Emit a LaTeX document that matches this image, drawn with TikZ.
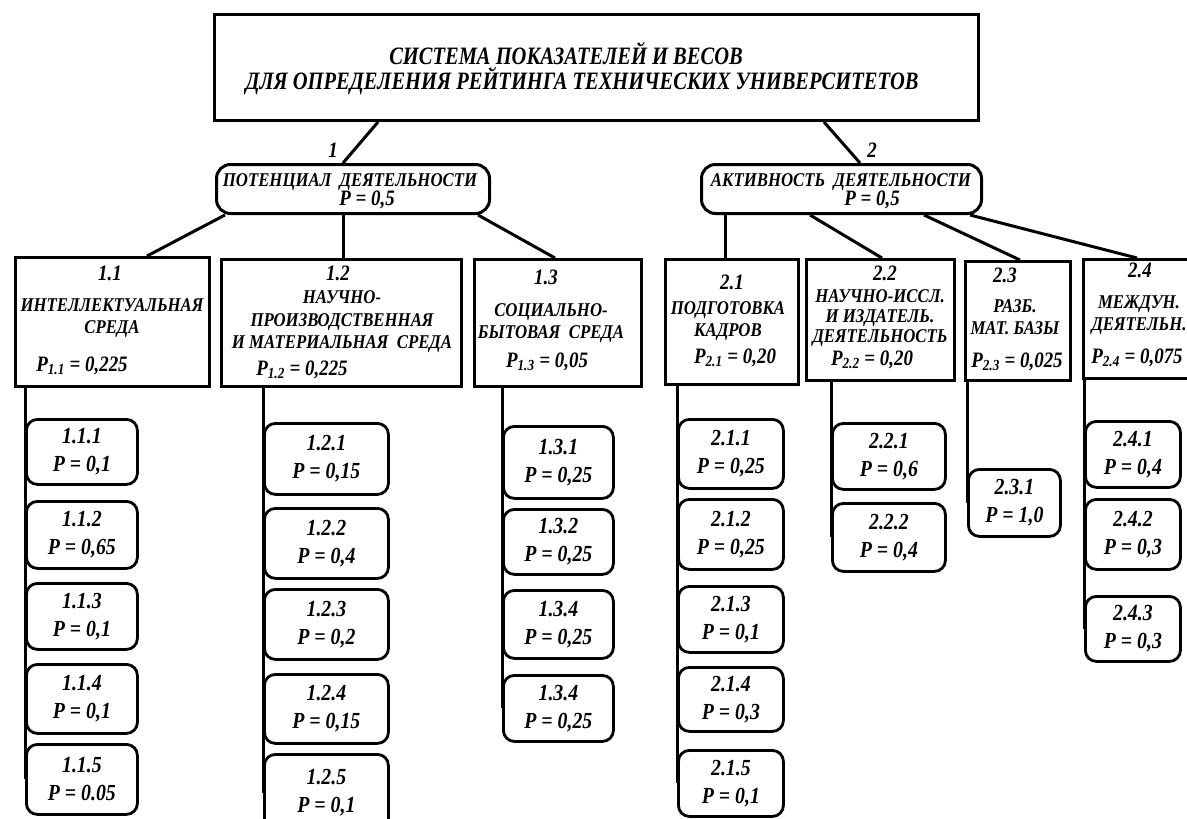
\documentclass[tikz,border=0pt]{standalone}
\usepackage{fontspec}
\setmainfont{Liberation Serif}[FakeStretch=0.86]
\newfontfamily\ttlfont{Liberation Serif}[FakeStretch=0.82]

\tikzset{
  every node/.style={inner sep=0pt},
  box/.style={draw, line width=3pt, anchor=north west},
  oval/.style={box, rounded corners=14pt},
  leaf/.style={draw, line width=2.8pt, rounded corners=11pt, anchor=north west, align=center,
    font=\fontsize{23}{28}\selectfont\bfseries\itshape},
  link/.style={line width=3pt},
  ttl/.style={font=\ttlfont\fontsize{25}{25}\selectfont\bfseries\itshape},
  num/.style={font=\fontsize{22}{22}\selectfont\bfseries\itshape},
  nm/.style={align=center, font=\fontsize{19.5}{22.5}\selectfont\bfseries\itshape},
  pv/.style={font=\fontsize{22}{22}\selectfont\bfseries\itshape},
}

\begin{document}
\begin{tikzpicture}[x=1pt,y=-1pt]
  \useasboundingbox (0,0) rectangle (1187,819);
  \clip (0,0) rectangle (1187,819);

  % Заголовок
  \node[box, minimum width=764, minimum height=106] (title) at (213,13) {};
  \node[ttl] (ttl1) at (566,54) {СИСТЕМА ПОКАЗАТЕЛЕЙ И ВЕСОВ};
  \node[ttl] (ttl2) at (582,81) {ДЛЯ ОПРЕДЕЛЕНИЯ РЕЙТИНГА ТЕХНИЧЕСКИХ УНИВЕРСИТЕТОВ};

  % Потенциал и активность
  \node[oval, minimum width=273, minimum height=49] (pot) at (215,163) {};
  \node[nm] (potn) at (350,182) {ПОТЕНЦИАЛ\ \ ДЕЯТЕЛЬНОСТИ};
  \node[pv] (potp) at (367,200) {P = 0,5};
  \node[oval, minimum width=280, minimum height=49] (act) at (700,163) {};
  \node[nm] (actn) at (841,182) {АКТИВНОСТЬ\ \ ДЕЯТЕЛЬНОСТИ};
  \node[pv] (actp) at (872,200) {P = 0,5};
  \node[num] (n1) at (333,150) {1};
  \node[num] (n2) at (872,150) {2};
  \draw[link] (title.south -| 378,0) -- (pot.north -| 343,0);
  \draw[link] (title.south -| 824,0) -- (act.north -| 860,0);

  % Группы показателей
  \node[box, minimum width=194, minimum height=129] (b11) at (14,256) {};
  \node[num] (b11n) at (110,273) {1.1};
  \node[nm] (b11t) at (112,318) {ИНТЕЛЛЕКТУАЛЬНАЯ\\СРЕДА};
  \node[pv] (b11p) at (82,366) {P\textsubscript{1.1} = 0,225};

  \node[box, minimum width=240, minimum height=127] (b12) at (220,258) {};
  \node[num] (b12n) at (338,273) {1.2};
  \node[nm] (b12t) at (342,322) {НАУЧНО-\\ПРОИЗВОДСТВЕННАЯ\\И МАТЕРИАЛЬНАЯ\ \ СРЕДА};
  \node[pv] (b12p) at (302,370) {P\textsubscript{1.2} = 0,225};

  \node[box, minimum width=167, minimum height=127] (b13) at (473,258) {};
  \node[num] (b13n) at (546,277) {1.3};
  \node[nm] (b13t) at (551,323) {СОЦИАЛЬНО-\\БЫТОВАЯ\ \ СРЕДА};
  \node[pv] (b13p) at (547,362) {P\textsubscript{1.3} = 0,05};

  \node[box, minimum width=133, minimum height=125] (b21) at (664,258) {};
  \node[num] (b21n) at (732,282) {2.1};
  \node[nm] (b21t) at (728,321) {ПОДГОТОВКА\\КАДРОВ};
  \node[pv] (b21p) at (735,358) {P\textsubscript{2.1} = 0,20};

  \node[box, minimum width=148, minimum height=121] (b22) at (805,258) {};
  \node[num] (b22n) at (885,273) {2.2};
  \node[nm, font=\fontsize{19.5}{20}\selectfont\bfseries\itshape] (b22t) at (880,318) {НАУЧНО-ИССЛ.\\И ИЗДАТЕЛЬ.\\ДЕЯТЕЛЬНОСТЬ};
  \node[pv] (b22p) at (872,360) {P\textsubscript{2.2} = 0,20};

  \node[box, minimum width=105, minimum height=119] (b23) at (964,260) {};
  \node[num] (b23n) at (1005,275) {2.3};
  \node[nm] (b23t) at (1015,317) {РАЗБ.\\МАТ. БАЗЫ};
  \node[pv] (b23p) at (1017,362) {P\textsubscript{2.3} = 0,025};

  \node[box, minimum width=113, minimum height=119] (b24) at (1082,258) {};
  \node[num] (b24n) at (1140,270) {2.4};
  \node[nm] (b24t) at (1139,315) {МЕЖДУН.\\ДЕЯТЕЛЬН.};
  \node[pv] (b24p) at (1137,358) {P\textsubscript{2.4} = 0,075};

  \draw[link] (pot.south -| 225,0) -- (b11.north -| 147,0);
  \draw[link] (pot.south -| 343,0) -- (b12.north -| 343,0);
  \draw[link] (pot.south -| 478,0) -- (b13.north -| 555,0);
  \draw[link] (act.south -| 725,0) -- (b21.north -| 725,0);
  \draw[link] (act.south -| 810,0) -- (b22.north -| 882,0);
  \draw[link] (act.south -| 924,0) -- (b23.north -| 1020,0);
  \draw[link] (act.south -| 970,0) -- (b24.north -| 1137,0);

  % Показатели 1.1
  \foreach \i/\t/\h/\p in {1/418/65/{0,1}, 2/500/67/{0,65}, 3/582/66/{0,1}, 4/663/69/{0,1}, 5/743/70/{0.05}}
    \node[leaf, minimum width=111, minimum height=\h] (l11\i) at (25,\t) {1.1.\i\\P = \p};
  \draw[link] (b11.south -| l111.west) -- (l115.west);

  % Показатели 1.2
  \foreach \i/\t/\h/\p in {1/422/71/{0,15}, 2/507/70/{0,4}, 3/588/70/{0,2}, 4/673/69/{0,15}, 5/753/77/{0,1}}
    \node[leaf, minimum width=124, minimum height=\h] (l12\i) at (263,\t) {1.2.\i\\P = \p};
  \draw[link] (b12.south -| l121.west) -- (l125.west);

  % Показатели 1.3
  \foreach \i/\n/\t/\h in {1/1.3.1/425/72, 2/1.3.2/508/65, 3/1.3.4/589/68, 4/1.3.4/674/66}
    \node[leaf, minimum width=110, minimum height=\h] (l13\i) at (502,\t) {\n\\P = 0,25};
  \draw[link] (b13.south -| l131.west) -- (l134.west);

  % Показатели 2.1
  \foreach \i/\t/\h/\p in {1/418/69/{0,25}, 2/498/70/{0,25}, 3/585/66/{0,1}, 4/666/64/{0,3}, 5/749/66/{0,1}}
    \node[leaf, minimum width=105, minimum height=\h] (l21\i) at (677,\t) {2.1.\i\\P = \p};
  \draw[link] (b21.south -| l211.west) -- (l215.west);

  % Показатели 2.2
  \foreach \i/\t/\h/\p in {1/422/66/{0,6}, 2/502/68/{0,4}}
    \node[leaf, minimum width=113, minimum height=\h] (l22\i) at (831,\t) {2.2.\i\\P = \p};
  \draw[link] (b22.south -| l221.west) -- (l222.west);

  % Показатели 2.3
  \node[leaf, minimum width=92, minimum height=67] (l231) at (967,468) {2.3.1\\P = 1,0};
  \draw[link] (b23.south -| l231.west) -- (l231.west);

  % Показатели 2.4
  \foreach \i/\t/\h/\p in {1/420/66/{0,4}, 2/498/70/{0,3}, 3/595/65/{0,3}}
    \node[leaf, minimum width=95, minimum height=\h] (l24\i) at (1084,\t) {2.4.\i\\P = \p};
  \draw[link] (b24.south -| l241.west) -- (l243.west);
\end{tikzpicture}
\end{document}
